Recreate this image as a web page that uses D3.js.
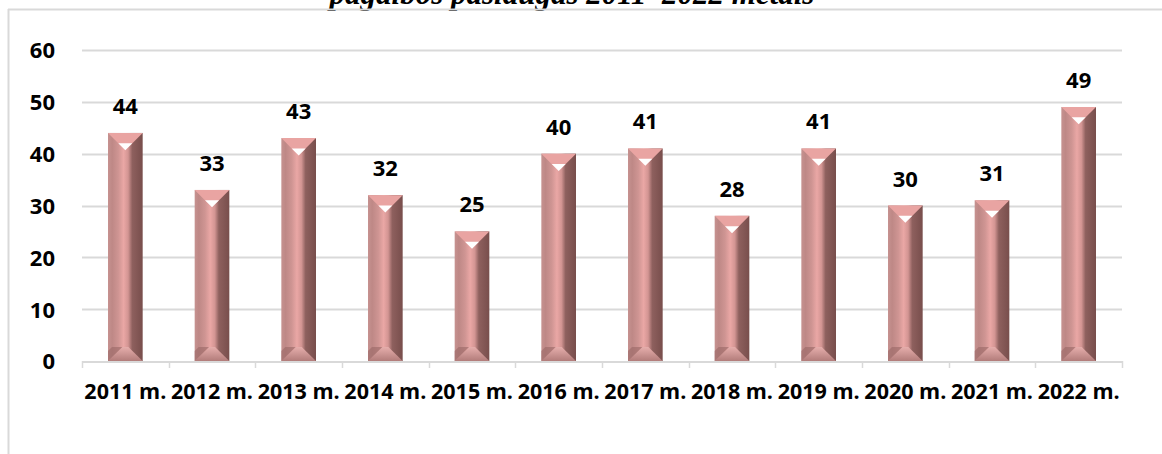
<!DOCTYPE html>
<html>
<head>
<meta charset="utf-8">
<script src="https://cdn.jsdelivr.net/npm/d3@7"></script>
<style>
  body { margin: 0; background: #fff; }
  svg { display: block; }
  text { font-family: "Open Sans", sans-serif; font-weight: bold; fill: #000; }
</style>
</head>
<body>
<svg id="chart"></svg>
<script>
// data
var years = ['2011 m.', '2012 m.', '2013 m.', '2014 m.', '2015 m.', '2016 m.',
             '2017 m.', '2018 m.', '2019 m.', '2020 m.', '2021 m.', '2022 m.']
var counts = [44, 33, 43, 32, 25, 40, 41, 28, 41, 30, 31, 49]
var yTicks = [0, 10, 20, 30, 40, 50, 60]
var title = 'pagalbos paslaugas 2011–2022 metais'

var width = 1162
var height = 454
var margin = {top: 50, bottom: 93, left: 82, right: 40}

var svg = d3.select('#chart')
    .attr('width', width)
    .attr('height', height)

// gradients for the bevelled bars
var defs = svg.append('defs')
var face = defs.append('linearGradient').attr('id', 'face')
    .attr('x1', '0%').attr('x2', '100%').attr('y1', '0%').attr('y2', '0%')
face.selectAll('stop').data([
    ['0%', '#c69290'], ['12%', '#be8886'], ['30%', '#cf9593'],
    ['45%', '#eaa7a5'], ['58%', '#d39593'], ['70%', '#8e605e'], ['100%', '#784e4c']
]).enter().append('stop')
    .attr('offset', d => d[0]).attr('stop-color', d => d[1])

var bottomCap = defs.append('linearGradient').attr('id', 'bottomCap')
    .attr('x1', '0%').attr('x2', '0%').attr('y1', '0%').attr('y2', '100%')
bottomCap.append('stop').attr('offset', '0%').attr('stop-color', '#e6aeac')
bottomCap.append('stop').attr('offset', '100%').attr('stop-color', '#b27c7a')

// title (only its lower part shows, as in the original)
svg.append('text')
    .attr('x', 572)
    .attr('y', 4)
    .attr('text-anchor', 'middle')
    .style('font-family', '"Liberation Serif", "Times New Roman", serif')
    .style('font-style', 'italic')
    .style('font-size', '31px')
    .text(title)

// outer frame lines
svg.append('line').attr('x1', 8).attr('x2', width).attr('y1', 9.5).attr('y2', 9.5)
    .attr('stroke', '#d9d9d9').attr('stroke-width', 2)
svg.append('line').attr('x1', 8.5).attr('x2', 8.5).attr('y1', 9).attr('y2', height)
    .attr('stroke', '#d9d9d9').attr('stroke-width', 2)

var xScale = d3.scaleBand()
    .domain(years)
    .range([margin.left, width - margin.right])
    .paddingInner(0.6)
    .paddingOuter(0.3)

var yScale = d3.scaleLinear()
    .domain([0, 60])
    .range([height - margin.bottom, margin.top])

// gridlines
svg.append('g').selectAll('line').data(yTicks.slice(1)).enter().append('line')
    .attr('x1', margin.left).attr('x2', width - margin.right)
    .attr('y1', d => Math.round(yScale(d)) + 0.5).attr('y2', d => Math.round(yScale(d)) + 0.5)
    .attr('stroke', '#d9d9d9').attr('stroke-width', 2)

// y axis labels
var yGuide = svg.append('g')
    .attr('transform', `translate(${margin.left},0)`)
    .call(d3.axisLeft(yScale).tickValues(yTicks).tickSize(0).tickPadding(27))
yGuide.select('.domain').remove()
yGuide.selectAll('text').style('font-size', '22px').style('font-family', '"Open Sans", sans-serif')
    .attr('dy', '0.36em')

// x axis
var x0 = xScale.range()[0]
var step = xScale.step()
var base = yScale(0)
svg.append('line').attr('x1', x0).attr('x2', width - margin.right)
    .attr('y1', base + 1).attr('y2', base + 1)
    .attr('stroke', '#d9d9d9').attr('stroke-width', 2)
svg.append('g').selectAll('line').data(d3.range(years.length + 1)).enter().append('line')
    .attr('x1', i => Math.round(x0 + i * step) + 0.5).attr('x2', i => Math.round(x0 + i * step) + 0.5)
    .attr('y1', base).attr('y2', base + 7)
    .attr('stroke', '#d9d9d9').attr('stroke-width', 1.5)

var xGuide = svg.append('g')
    .attr('transform', `translate(0,${base})`)
    .call(d3.axisBottom(xScale).tickSize(0).tickPadding(23))
xGuide.select('.domain').remove()
xGuide.selectAll('text').style('font-size', '21.5px').style('font-family', '"Open Sans", sans-serif')

// bars
var bw = xScale.bandwidth()
var bars = svg.append('g').selectAll('g').data(counts).enter().append('g')
    .attr('transform', (d, i) => `translate(${xScale(years[i])},0)`)

bars.append('rect')
    .attr('x', 0)
    .attr('y', d => yScale(d))
    .attr('width', bw)
    .attr('height', d => base - yScale(d))
    .attr('fill', 'url(#face)')

// top bevel: V shape with white tip
var cap = bw / 2
bars.append('path')
    .attr('d', d => {
        var t = yScale(d)
        return `M0,${t} L${bw},${t} L${bw / 2},${t + cap} Z`
    })
    .attr('fill', '#e9a4a2')
bars.append('path')
    .attr('d', d => {
        var t = yScale(d) + cap - 7
        return `M${bw / 2 - 7},${t} L${bw / 2 + 7},${t} L${bw / 2},${t + 7} Z`
    })
    .attr('fill', '#ffffff')

// bottom bevel
bars.append('path')
    .attr('d', d => `M0,${base} L${bw},${base} L${bw / 2 + 3},${base - 14} L${bw / 2 - 3},${base - 14} Z`)
    .attr('fill', 'url(#bottomCap)')
bars.append('path')
    .attr('d', `M0,${base} L${bw / 2 - 3},${base - 14} L4,${base - 14} L0,${base - 10} Z`)
    .attr('fill', '#9a6866').attr('opacity', 0.6)

// value labels
bars.append('text')
    .attr('x', bw / 2)
    .attr('y', d => yScale(d) - 19)
    .attr('text-anchor', 'middle')
    .style('font-size', '22px')
    .text(d => d)
</script>
</body>
</html>
